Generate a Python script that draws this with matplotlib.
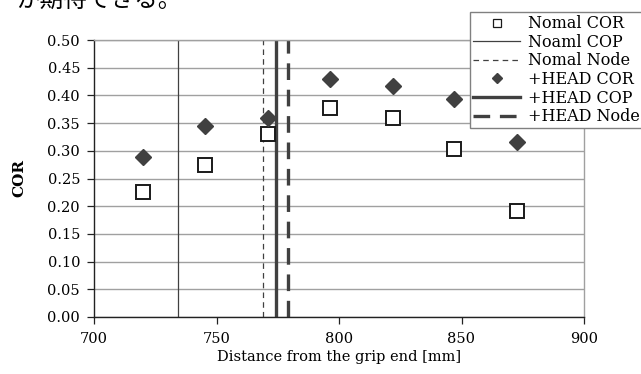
import matplotlib
matplotlib.use("Agg")
import matplotlib.pyplot as plt
from matplotlib.lines import Line2D

plt.rcParams['font.family'] = ['DejaVu Serif']
plt.rcParams['lines.scale_dashes'] = False

# Data
x_pos = [720, 745.5, 771, 796.5, 822, 847, 872.5]
nomal_cor = [0.225, 0.275, 0.330, 0.378, 0.360, 0.303, 0.191]
head_cor = [0.288, 0.345, 0.359, 0.430, 0.417, 0.393, 0.316]
nomal_cop = 734.4
nomal_node = 769.1
head_cop = 774.3
head_node = 779.3
x_ticks = [700, 750, 800, 850, 900]
y_ticks = [0.00, 0.05, 0.10, 0.15, 0.20, 0.25, 0.30, 0.35, 0.40, 0.45, 0.50]
top_text = "が期待できる。"

W, H = 641, 374
fig = plt.figure(figsize=(W / 100, H / 100), dpi=100)
ax = fig.add_axes([94 / W, 1 - 317 / H, (584 - 94) / W, (317 - 40) / H])

dark = '#404040'
grid_c = '#a0a0a0'
thin_dash = (0, (4, 3))
thick_dash = (0, (12, 7))

for y in y_ticks:
    ax.axhline(y, color=grid_c, lw=1.0, zorder=1)

ax.axvline(nomal_cop, color=dark, lw=0.9, zorder=2)
ax.axvline(nomal_node, color=dark, lw=0.9, linestyle=thin_dash, zorder=2)
ax.axvline(head_cop, color=dark, lw=2.4, zorder=2)
ax.axvline(head_node, color=dark, lw=2.4, linestyle=thick_dash, zorder=2)

ax.plot(x_pos, nomal_cor, linestyle='none', marker='s', markersize=10,
        markerfacecolor='white', markeredgecolor='#1a1a1a', markeredgewidth=1.4, zorder=4)
ax.plot(x_pos, head_cor, linestyle='none', marker='D', markersize=8,
        markerfacecolor=dark, markeredgecolor=dark, zorder=4)

ax.set_xlim(700, 900)
ax.set_ylim(0, 0.5)
ax.set_xticks(x_ticks)
ax.set_yticks(y_ticks)
ax.set_xticklabels([str(t) for t in x_ticks])
ax.set_yticklabels([f"{t:.2f}" for t in y_ticks])
ax.tick_params(axis='both', direction='out', length=5, width=0.9, colors='#222222',
               labelsize=10.5, labelcolor='black')
ax.tick_params(axis='x', pad=6)
ax.tick_params(axis='y', pad=5)

for s in ['top', 'right']:
    ax.spines[s].set_color(grid_c)
    ax.spines[s].set_linewidth(1.0)
for s in ['left', 'bottom']:
    ax.spines[s].set_color('#222222')
    ax.spines[s].set_linewidth(1.0)

ax.set_xlabel("Distance from the grip end [mm]", fontsize=10.5, labelpad=3)
ax.set_ylabel("COR", fontsize=11, fontweight='bold', labelpad=15)

handles = [
    Line2D([], [], linestyle='none', marker='s', markersize=6, markerfacecolor='white',
           markeredgecolor='#1a1a1a', markeredgewidth=0.9),
    Line2D([], [], color=dark, lw=0.9),
    Line2D([], [], color=dark, lw=0.9, linestyle=thin_dash),
    Line2D([], [], linestyle='none', marker='D', markersize=5, markerfacecolor=dark,
           markeredgecolor=dark),
    Line2D([], [], color=dark, lw=2.4),
    Line2D([], [], color=dark, lw=2.4, linestyle=thick_dash),
]
labels = ["Nomal COR", "Noaml COP", "Nomal Node", "+HEAD COR", "+HEAD COP", "+HEAD Node"]
leg = fig.legend(handles, labels, loc='upper left', bbox_to_anchor=(470 / W, 1 - 12 / H),
                 bbox_transform=fig.transFigure, fontsize=11.5, frameon=True, fancybox=False,
                 framealpha=1, edgecolor='#808080', borderpad=0.2, labelspacing=0.1,
                 handlelength=2.95, handletextpad=0.45, borderaxespad=0)
leg.get_frame().set_linewidth(1.0)
leg.set_zorder(10)

fig.text(17 / W, 1 - 7 / H, top_text, fontsize=17, va='baseline', ha='left',
         family=['Noto Sans CJK JP', 'DejaVu Sans'])

fig.savefig("out.png", dpi=100)
